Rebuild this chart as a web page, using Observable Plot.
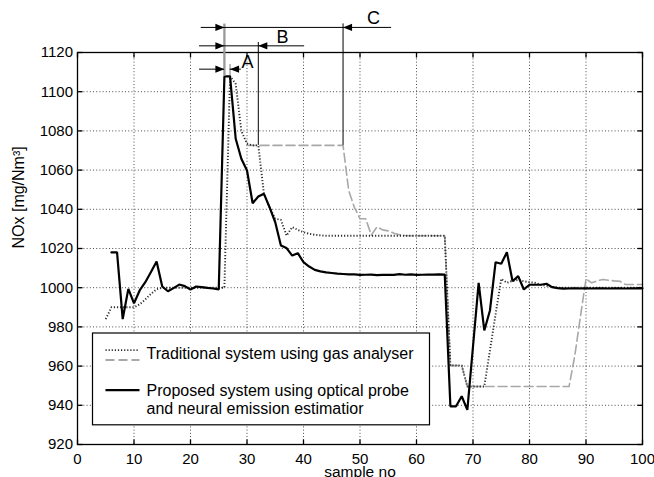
<!DOCTYPE html>
<html>
<head>
<meta charset="utf-8">
<script src="https://cdn.jsdelivr.net/npm/d3@7"></script>
<script src="https://cdn.jsdelivr.net/npm/@observablehq/plot@0.6"></script>
<style>html,body{margin:0;padding:0;background:#fff;}</style>
</head>
<body>
<div id="chart"></div>
<script>
// ---- data ----
const xTicks = [0, 10, 20, 30, 40, 50, 60, 70, 80, 90, 100];
const yTicks = [920, 940, 960, 980, 1000, 1020, 1040, 1060, 1080, 1100, 1120];

// Proposed system (optical probe + neural estimator), samples 6..100
const proposedStart = 6;
const proposedValues = [
  1018, 1018, 984, 999.4,                                              // 6-9
  992, 998.6, 1002.8, 1008, 1013.4, 1000.6, 998.2, 999.8, 1001.6, 1000.8, // 10-19
  999, 1000.6, 1000.3, 999.9, 999.6, 999.1, 1107.8, 1107.8, 1076, 1065.8, // 20-29
  1059.8, 1043.1, 1046.5, 1047.9, 1041, 1033.4, 1021.5, 1020.2, 1016.4, 1017.6, // 30-39
  1013, 1010.8, 1009.1, 1008.3, 1007.8, 1007.5, 1007.2, 1007, 1006.8, 1006.8, // 40-49
  1006.5, 1006.6, 1006.7, 1006.4, 1006.5, 1006.6, 1006.5, 1006.9, 1006.6, 1006.8, // 50-59
  1006.5, 1006.6, 1006.7, 1006.7, 1006.8, 1006.7, 939.5, 939.5, 944.6, 937.7, // 60-69
  970, 1002.5, 978.2, 988.4, 1013, 1012.2, 1018.1, 1003.3, 1005.9, 999.1,  // 70-79
  1001.5, 1001.5, 1001.5, 1002, 1000.3, 999.8, 999.5, 999.6, 999.7, 999.6, // 80-89
  999.7, 999.6, 999.7, 999.7, 999.6, 999.7, 999.7, 999.6, 999.7, 999.7,    // 90-99
  999.7                                                                  // 100
];

// Traditional system (gas analyser), samples 5..100
const traditionalStart = 5;
const traditionalValues = [
  984, 990, 990, 990, 990,                                               // 5-9
  990, 991.5, 994, 996.9, 999.2, 1000, 1000, 1000, 1000, 1000,           // 10-19
  1000, 1000, 1000, 1000, 1000, 1000, 1000, 1108, 1104, 1080,            // 20-29
  1073.5, 1072.6, 1072.6, 1048, 1041, 1035.2, 1034.6, 1026.6, 1030.9, 1029.5, // 30-39
  1028.3, 1027.5, 1027, 1026.7, 1026.5, 1026.5, 1026.5, 1026.5, 1026.5, 1026.5, // 40-49
  1026.5, 1026.5, 1026.5, 1026.5, 1026.5, 1026.5, 1026.5, 1026.5, 1026.5, 1026.5, // 50-59
  1026.5, 1026.5, 1026.5, 1026.5, 1026.5, 1026.5, 960.3, 960.3, 960.3, 949.6, // 60-69
  949.6, 949.6, 949.6, 968, 986.5, 1004.5, 1002.5, 1003.5, 1004, 1003.3,  // 70-79
  1002.8, 1002.5, 1001.5, 1001, 1000.5, 1000, 1000, 1000, 1000, 1000,     // 80-89
  1000, 1000, 1000, 1000, 1000, 1000, 1000, 1000, 1000, 1000,             // 90-99
  1000                                                                   // 100
];

// Gas analyser reading with transport delay, samples 30..100
const delayedStart = 30;
const delayedValues = [
  1072.6, 1072.6, 1072.6, 1072.6, 1072.6, 1072.6, 1072.6, 1072.6, 1072.6, 1072.6, // 30-39
  1072.6, 1072.6, 1072.6, 1072.6, 1072.6, 1072.6, 1072.6, 1072.6, 1049.6, 1041,   // 40-49
  1035.2, 1035.2, 1026.8, 1031, 1029.5, 1029, 1027.8, 1027, 1026.6, 1026.5,       // 50-59
  1026.5, 1026.5, 1026.5, 1026.5, 1026.5, 1026.5, 960.3, 960.3, 960.3, 949.6,     // 60-69
  949.6, 949.6, 949.6, 949.6, 949.6, 949.6, 949.6, 949.6, 949.6, 949.6,           // 70-79
  949.6, 949.6, 949.6, 949.6, 949.6, 949.6, 949.6, 949.6, 965, 985,               // 80-89
  1004.5, 1002.5, 1003.5, 1004.2, 1003.8, 1003.5, 1003.3, 1001.6, 1001.6, 1001.6, // 90-99
  1001.6                                                                         // 100
];

const legendLabels = [
  "Traditional system using gas analyser",
  "Proposed system using optical probe\nand neural emission estimatior"
];
const xLabel = "sample no";
const yLabel = "NOx [mg/Nm³]";

// delay annotation spans (A, B, C)
const spanNames = ["A", "B", "C"];
const spanStart = [26, 26, 26];
const spanEnd = [27, 32, 47];
const spanLevel = [1111.5, 1123.4, 1132.8];
const spanLeftEnd = [21.6, 21.6, 21.9];
const spanRightEnd = [29, 40.2, 55.6];
const spanInner = [false, true, true];
const spanLabelX = [30.1, 36.3, 52.4];
const spanLabelY = [1115.1, 1127.8, 1137.7];

// vertical guide lines of the annotation
const guideX = [26, 27, 32, 47];
const guideTop = [1134.5, 1113.9, 1125.1, 1134.6];
const guideBottom = [1107.8, 1108, 1072.6, 1072.6];

// ---- build tables ----
const rows = (start, values) => values.map((v, i) => ({sample: start + i, value: v}));
const proposed = rows(proposedStart, proposedValues);
const traditional = rows(traditionalStart, traditionalValues);
const delayed = rows(delayedStart, delayedValues);

const spans = spanNames.map((n, i) => ({
  name: n, start: spanStart[i], end: spanEnd[i], level: spanLevel[i],
  left: spanLeftEnd[i], right: spanRightEnd[i], inner: spanInner[i],
  lx: spanLabelX[i], ly: spanLabelY[i]
}));
const segs = [];
spans.forEach(s => {
  if (s.inner) segs.push({x1: s.left, x2: s.right, y: s.level});
  else { segs.push({x1: s.left, x2: s.start, y: s.level}); segs.push({x1: s.end, x2: s.right, y: s.level}); }
});
const guides = guideX.map((x, i) => ({x, top: guideTop[i], bottom: guideBottom[i], gray: i < 2, thick: i === 0}));

// ---- custom symbols ----
const arrowHead = {draw(c) { c.moveTo(0, 0); c.lineTo(-9, -3.6); c.lineTo(-9, 3.6); c.closePath(); }};
const tickMark = {draw(c) { c.moveTo(0, 0); c.lineTo(0, -5); }};
const swatch = {draw(c) { c.moveTo(-17, 0); c.lineTo(17, 0); }};

const FONT = "'Liberation Sans', Arial, Helvetica, sans-serif";
const DOT = "1.2,1.9";

const chart = Plot.plot({
  width: 654,
  height: 477,
  marginLeft: 77,
  marginRight: 12,
  marginTop: 52,
  marginBottom: 33,
  style: {fontFamily: FONT, fontSize: "15px", color: "#000", background: "#fff"},
  x: {domain: [0, 100]},
  y: {domain: [920, 1120]},
  marks: [
    Plot.gridX(xTicks, {stroke: "#000", strokeOpacity: 0.7, strokeDasharray: "1,2.2", strokeWidth: 1}),
    Plot.gridY(yTicks, {stroke: "#000", strokeOpacity: 0.7, strokeDasharray: "1,2.2", strokeWidth: 1}),
    Plot.line(delayed, {x: "sample", y: "value", stroke: "#a8a8a8", strokeWidth: 1.6, strokeDasharray: "9,4"}),
    Plot.line(traditional, {x: "sample", y: "value", stroke: "#2e2e2e", strokeWidth: 1.9, strokeDasharray: DOT, strokeLinecap: "butt"}),
    Plot.line(proposed, {x: "sample", y: "value", stroke: "#000", strokeWidth: 2.2, strokeLinejoin: "miter"}),
    Plot.frame({stroke: "#000", strokeWidth: 1.3}),
    // inward ticks on all four sides
    Plot.dot(xTicks, {x: d => d, y: 920, symbol: tickMark, fill: "none", stroke: "#000", strokeWidth: 1.3}),
    Plot.dot(xTicks, {x: d => d, y: 1120, symbol: tickMark, rotate: 180, fill: "none", stroke: "#000", strokeWidth: 1.3}),
    Plot.dot(yTicks, {x: 0, y: d => d, symbol: tickMark, rotate: 90, fill: "none", stroke: "#000", strokeWidth: 1.3}),
    Plot.dot(yTicks, {x: 100, y: d => d, symbol: tickMark, rotate: -90, fill: "none", stroke: "#000", strokeWidth: 1.3}),
    Plot.axisX({ticks: xTicks, tickSize: 0, tickPadding: 9, tickFormat: d3.format("d"), label: null}),
    Plot.axisY({ticks: yTicks, tickSize: 0, tickPadding: 4.5, tickFormat: d3.format("d"), label: null}),
    Plot.text([xLabel], {text: d => d, frameAnchor: "bottom", dy: 27.5, fontSize: 15.5, lineAnchor: "middle"}),
    Plot.text([yLabel], {text: d => d, frameAnchor: "left", dx: -58.5, rotate: -90, fontSize: 16, lineAnchor: "middle"}),
    // annotation: guide lines
    Plot.ruleX(guides, {x: "x", y1: "top", y2: "bottom",
      stroke: d => d.gray ? "#9a9a9a" : "#000", strokeWidth: d => d.thick ? 2.3 : (d.gray ? 1.3 : 1)}),
    // annotation: horizontal span lines
    Plot.ruleY(segs, {y: "y", x1: "x1", x2: "x2", stroke: "#000", strokeWidth: 1}),
    // annotation: arrow heads (outside, pointing inward)
    Plot.dot(spans, {x: "start", y: "level", symbol: arrowHead, fill: "#000", stroke: "none"}),
    Plot.dot(spans, {x: "end", y: "level", symbol: arrowHead, rotate: 180, fill: "#000", stroke: "none"}),
    Plot.text(spans, {x: "lx", y: "ly", text: "name", fontSize: 18, lineAnchor: "middle", fill: "#000"}),
    // legend
    Plot.frame({fill: "#fff", stroke: "#000", strokeWidth: 1.2, insetLeft: 15, insetRight: 213, insetTop: 280.5, insetBottom: 19.7}),
    Plot.dot([0], {frameAnchor: "top-left", dx: 45, dy: 297.6, symbol: swatch, fill: "none", stroke: "#2e2e2e", strokeWidth: 1.9, strokeDasharray: DOT}),
    Plot.dot([0], {frameAnchor: "top-left", dx: 45, dy: 307.6, symbol: swatch, fill: "none", stroke: "#a8a8a8", strokeWidth: 2, strokeDasharray: "9,4"}),
    Plot.dot([0], {frameAnchor: "top-left", dx: 45, dy: 337.6, symbol: swatch, fill: "none", stroke: "#000", strokeWidth: 2.2}),
    Plot.text([legendLabels[0]], {text: d => d, frameAnchor: "top-left", dx: 69, dy: 295, textAnchor: "start", lineAnchor: "top", fontSize: 16}),
    Plot.text([legendLabels[1]], {text: d => d, frameAnchor: "top-left", dx: 69, dy: 331, textAnchor: "start", lineAnchor: "top", fontSize: 16, lineHeight: 1.11})
  ]
});
document.getElementById("chart").appendChild(chart);
</script>
</body>
</html>
